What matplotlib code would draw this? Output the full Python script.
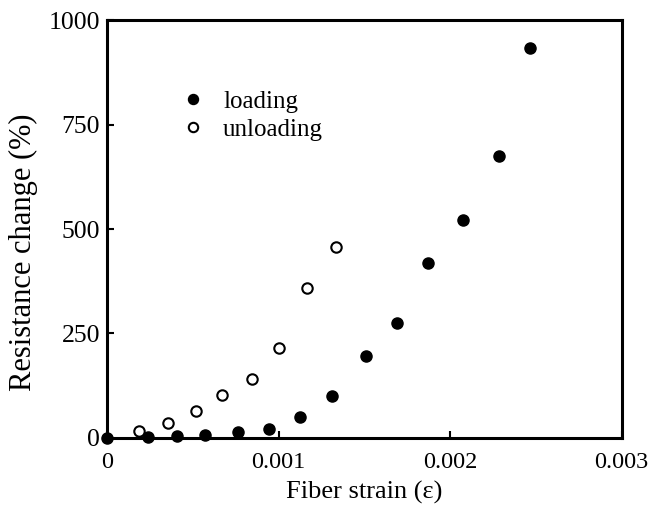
import matplotlib.pyplot as plt

plt.rcParams['font.family'] = ['Liberation Serif', 'DejaVu Serif']

# loading data (strain, resistance change %)
load_strain = [0.0, 0.000239, 0.000405, 0.00057, 0.000761, 0.000945, 0.001124,
               0.001312, 0.001507, 0.001689, 0.001873, 0.002072, 0.002283, 0.002465]
load_res = [0, 2, 5, 7, 13, 22, 49, 100, 196, 275, 418, 522, 675, 933]

# unloading data
unload_strain = [0.000186, 0.000353, 0.000516, 0.000672, 0.000844, 0.001002,
                 0.001163, 0.001332]
unload_res = [17, 35, 65, 102, 140, 214, 358, 458]

fig = plt.figure(figsize=(6.49, 5.32), dpi=100)
ax = fig.add_axes([0.165, 0.177, 0.793, 0.785])

ax.plot(load_strain, load_res, 'o', color='black', ms=8, clip_on=False,
        zorder=5, label='loading')
ax.plot(unload_strain, unload_res, 'o', mfc='white', mec='black', mew=1.5,
        ms=7.5, clip_on=False, zorder=5, label='unloading')

ax.set_xlim(0, 0.003)
ax.set_ylim(0, 1000)
ax.set_xticks([0, 0.001, 0.002, 0.003])
ax.set_xticklabels(['0', '0.001', '0.002', '0.003'])
ax.set_yticks([0, 250, 500, 750, 1000])
ax.tick_params(direction='in', length=5, width=1.5, labelsize=18.5, pad=5)
ax.tick_params(axis='x', pad=10, labelsize=17.5)
for s in ax.spines.values():
    s.set_linewidth(2.2)

ax.set_xlabel('Fiber strain (ε)', fontsize=19, labelpad=6)
ax.set_ylabel('Resistance change (%)', fontsize=22)
ax.yaxis.set_label_coords(-0.135, 0.445)

ax.legend(loc='upper left', bbox_to_anchor=(0.075, 0.885), frameon=False,
          fontsize=18, handletextpad=0.2, labelspacing=0.2, markerscale=0.9)

fig.savefig('out.png', dpi=100)
